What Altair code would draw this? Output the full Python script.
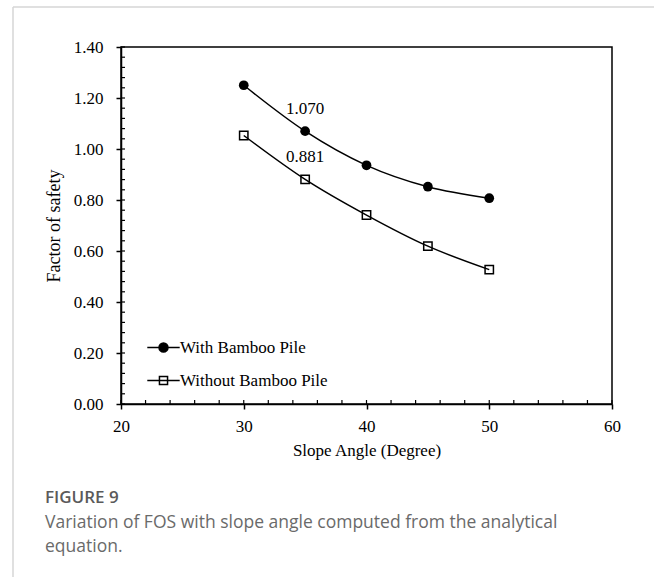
import altair as alt
import pandas as pd

# ---- data ----
angles = [30, 35, 40, 45, 50]
fos_with = [1.250, 1.070, 0.936, 0.852, 0.807]
fos_without = [1.053, 0.881, 0.741, 0.619, 0.527]
series_names = ["With Bamboo Pile", "Without Bamboo Pile"]

label_angles = [35, 35]
label_values = [1.070, 0.881]
label_texts = ["1.070", "0.881"]

x_major = [20, 30, 40, 50, 60]
y_major = [0.0, 0.2, 0.4, 0.6, 0.8, 1.0, 1.2, 1.4]
x_minor = [20, 22, 24, 26, 28, 30, 32, 34, 36, 38, 40, 42, 44, 46, 48, 50,
           52, 54, 56, 58, 60]
y_minor = [0.00, 0.04, 0.08, 0.12, 0.16, 0.20, 0.24, 0.28, 0.32, 0.36, 0.40,
           0.44, 0.48, 0.52, 0.56, 0.60, 0.64, 0.68, 0.72, 0.76, 0.80, 0.84,
           0.88, 0.92, 0.96, 1.00, 1.04, 1.08, 1.12, 1.16, 1.20, 1.24, 1.28,
           1.32, 1.36, 1.40]

fig_label = "FIGURE 9"
caption_lines = ["Variation of FOS with slope angle computed from the analytical",
                 "equation."]

# ---- tables ----
rows = []
for a, v in zip(angles, fos_with):
    rows.append({"angle": a, "fos": v, "series": series_names[0]})
for a, v in zip(angles, fos_without):
    rows.append({"angle": a, "fos": v, "series": series_names[1]})
df = pd.DataFrame(rows)
df_labels = pd.DataFrame({"angle": label_angles, "fos": label_values, "text": label_texts})
df_xminor = pd.DataFrame({"angle": x_minor})
df_yminor = pd.DataFrame({"fos": y_minor})

SERIF = "Liberation Serif"
SANS = "Open Sans"
W, H = 491, 357
PL, PT = 121, 47

x_axis = alt.Axis(values=x_major, tickSize=5, tickColor="black", tickWidth=1.5,
                  domainColor="black", domainWidth=1.5, grid=False, labelFlush=False,
                  labelFont=SERIF, labelFontSize=17, labelColor="black", labelPadding=9,
                  titleFont=SERIF, titleFontSize=17, titleFontWeight="normal",
                  titleColor="black", titlePadding=8)
y_axis = alt.Axis(values=y_major, format=".2f", tickSize=5, tickColor="black", tickWidth=1.5,
                  domainColor="black", domainWidth=1.5, grid=False, labelFlush=False,
                  labelFont=SERIF, labelFontSize=17, labelColor="black", labelPadding=13,
                  titleFont=SERIF, titleFontSize=18, titleFontWeight="normal",
                  titleColor="black", titlePadding=10)

X = alt.X("angle:Q", scale=alt.Scale(domain=[20, 60], nice=False, zero=False),
          axis=x_axis, title="Slope Angle (Degree)")
Y = alt.Y("fos:Q", scale=alt.Scale(domain=[0, 1.4], nice=False),
          axis=y_axis, title="Factor of safety")

# legend symbols: a line segment with the marker in its middle
circle_path = "M1,0A1,1,0,1,1,-1,0A1,1,0,1,1,1,0Z M-3.6,0H3.6"
square_path = "M-0.9,-0.9H0.9V0.9H-0.9Z M-3.6,0H3.6"
legend = alt.Legend(
    title=None, orient="none", legendX=34, legendY=292, padding=0,
    labelFont=SERIF, labelFontSize=17, labelColor="black", labelOffset=8,
    symbolSize=81, rowPadding=15, symbolStrokeColor="black", symbolStrokeWidth=1.5,
    symbolOpacity=1)

lines = alt.Chart(df).mark_line(interpolate="monotone", color="black", strokeWidth=1.5).encode(
    x=X, y=Y, detail="series:N")

circles = alt.Chart(df).transform_filter(
    alt.datum.series == series_names[0]).mark_point(
    shape="circle", filled=True, color="black", size=95, opacity=1).encode(x=X, y=Y)
squares = alt.Chart(df).transform_filter(
    alt.datum.series == series_names[1]).mark_point(
    shape="square", filled=False, color="black", strokeWidth=1.5, size=70, opacity=1).encode(x=X, y=Y)

legend_layer = alt.Chart(df).transform_filter("datum.angle < 0").mark_point(
    strokeWidth=1.5, opacity=1).encode(
    x=X, y=Y,
    shape=alt.Shape("series:N", scale=alt.Scale(domain=series_names, range=[circle_path, square_path]),
                    legend=legend),
    fill=alt.Fill("series:N", scale=alt.Scale(domain=series_names, range=["black", "transparent"]),
                  legend=legend),
    stroke=alt.Stroke("series:N", scale=alt.Scale(domain=series_names, range=["black", "black"]),
                      legend=legend))

labels = alt.Chart(df_labels).mark_text(font=SERIF, fontSize=17, color="black", dy=-22,
                                        baseline="middle").encode(x=X, y=Y, text="text:N")

xminor = alt.Chart(df_xminor).mark_rule(color="black", strokeWidth=1.2).encode(
    x=X, y=alt.value(H), y2=alt.value(H - 4))
yminor = alt.Chart(df_yminor).mark_rule(color="black", strokeWidth=1.2).encode(
    y=Y, x=alt.value(0), x2=alt.value(4))

one = pd.DataFrame({"d": [0]})
frame_top = alt.Chart(one).mark_rule(color="#d6d6d6", strokeWidth=1.5).encode(
    x=alt.value(13 - PL), x2=alt.value(654 - PL), y=alt.value(7 - PT))
frame_left = alt.Chart(one).mark_rule(color="#d6d6d6", strokeWidth=1.5).encode(
    x=alt.value(13 - PL), y=alt.value(7 - PT), y2=alt.value(577 - PT))

fig_text = alt.Chart(pd.DataFrame({"t": [fig_label]})).mark_text(
    font=SANS, fontSize=17, fontWeight=600, color="#5a5a5a", align="left",
    baseline="alphabetic").encode(text="t:N", x=alt.value(45 - PL), y=alt.value(503 - PT))
cap1 = alt.Chart(pd.DataFrame({"t": [caption_lines[0]]})).mark_text(
    font=SANS, fontSize=17.5, color="#6a6a6a", align="left",
    baseline="alphabetic").encode(text="t:N", x=alt.value(45 - PL), y=alt.value(528 - PT))
cap2 = alt.Chart(pd.DataFrame({"t": [caption_lines[1]]})).mark_text(
    font=SANS, fontSize=17.5, color="#6a6a6a", align="left",
    baseline="alphabetic").encode(text="t:N", x=alt.value(45 - PL), y=alt.value(552 - PT))

chart = alt.layer(frame_top, frame_left, xminor, yminor, lines, circles, squares,
                  legend_layer, labels, fig_text, cap1, cap2).properties(
    width=W, height=H,
    autosize=alt.AutoSizeParams(type="none"),
    padding={"left": PL, "top": PT, "right": 654 - PL - W, "bottom": 577 - PT - H},
    background="white",
).configure_view(stroke="black", strokeWidth=1.5).configure_axis(
    labelFont=SERIF, titleFont=SERIF)

chart.save("out.html", embed_options={"renderer": "svg", "actions": False})
